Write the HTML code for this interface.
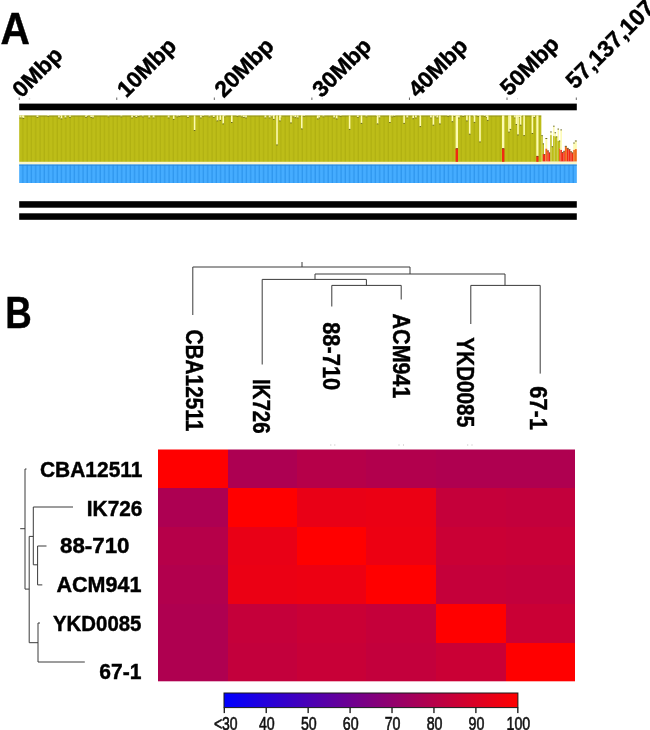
<!DOCTYPE html>
<html><head><meta charset="utf-8"><title>Figure</title>
<style>html,body{margin:0;padding:0;background:#fff}svg{display:block;will-change:transform}text{font-family:"Liberation Sans",Arial,sans-serif}</style>
</head><body>
<svg width="650" height="730" viewBox="0 0 650 730">
<rect width="650" height="730" fill="#fff"/>
<text x="0.4" y="43.6" font-size="44" font-weight="bold" text-anchor="start" fill="#000" textLength="29.4" lengthAdjust="spacingAndGlyphs" stroke="#000" stroke-width="0.45">A</text>
<text x="5.2" y="327.6" font-size="45" font-weight="bold" text-anchor="start" fill="#000" textLength="26.5" lengthAdjust="spacingAndGlyphs" stroke="#000" stroke-width="0.45">B</text>
<rect x="19.20" y="103.60" width="557.60" height="6.70" fill="#000"/>
<rect x="19.20" y="201.20" width="557.60" height="6.50" fill="#000"/>
<rect x="19.20" y="213.30" width="557.60" height="6.50" fill="#000"/>
<rect x="18.70" y="97.50" width="1.00" height="2.50" fill="#666"/>
<rect x="116.26" y="97.50" width="1.00" height="2.50" fill="#666"/>
<rect x="213.82" y="97.50" width="1.00" height="2.50" fill="#666"/>
<rect x="311.38" y="97.50" width="1.00" height="2.50" fill="#666"/>
<rect x="408.94" y="97.50" width="1.00" height="2.50" fill="#666"/>
<rect x="506.50" y="97.50" width="1.00" height="2.50" fill="#666"/>
<rect x="575.80" y="97.50" width="1.00" height="2.50" fill="#666"/>
<text transform="translate(21.4 98.7) rotate(-45)" font-size="22.5" font-weight="bold" text-anchor="start" fill="#000" textLength="60" lengthAdjust="spacingAndGlyphs" stroke="#000" stroke-width="0.45">0Mbp</text>
<text transform="translate(126.3 98.5) rotate(-45)" font-size="22.5" font-weight="bold" text-anchor="start" fill="#000" textLength="72.5" lengthAdjust="spacingAndGlyphs" stroke="#000" stroke-width="0.45">10Mbp</text>
<text transform="translate(223.8 98.5) rotate(-45)" font-size="22.5" font-weight="bold" text-anchor="start" fill="#000" textLength="72.5" lengthAdjust="spacingAndGlyphs" stroke="#000" stroke-width="0.45">20Mbp</text>
<text transform="translate(321.4 98.5) rotate(-45)" font-size="22.5" font-weight="bold" text-anchor="start" fill="#000" textLength="72.5" lengthAdjust="spacingAndGlyphs" stroke="#000" stroke-width="0.45">30Mbp</text>
<text transform="translate(417.6 98.5) rotate(-45)" font-size="22.5" font-weight="bold" text-anchor="start" fill="#000" textLength="72.5" lengthAdjust="spacingAndGlyphs" stroke="#000" stroke-width="0.45">40Mbp</text>
<text transform="translate(509.2 96.8) rotate(-45)" font-size="22.5" font-weight="bold" text-anchor="start" fill="#000" textLength="72.5" lengthAdjust="spacingAndGlyphs" stroke="#000" stroke-width="0.45">50Mbp</text>
<text transform="translate(575.3 90) rotate(-45)" font-size="23.2" font-weight="bold" text-anchor="start" fill="#000" textLength="114" lengthAdjust="spacingAndGlyphs" stroke="#000" stroke-width="0.45">57,137,107</text>
<defs>
<pattern id="st" width="4.3" height="10" patternUnits="userSpaceOnUse" x="19.2"><rect x="0" y="0" width="4.3" height="10" fill="#bdbd18"/><rect x="3.0" y="0" width="1.3" height="10" fill="#b1b112"/></pattern>
<pattern id="sb" width="4.3" height="10" patternUnits="userSpaceOnUse" x="19.2"><rect x="0" y="0" width="4.3" height="10" fill="#45acff"/><rect x="3.0" y="0" width="1.3" height="10" fill="#2f97ee"/></pattern>
<linearGradient id="cb" x1="0" x2="1" y1="0" y2="0"><stop offset="0" stop-color="#0000ff"/><stop offset="1" stop-color="#ff0000"/></linearGradient>
</defs>
<rect x="19.20" y="161.80" width="557.60" height="2.80" fill="#fbf6c8"/>
<rect x="19.20" y="115.60" width="557.60" height="46.20" fill="url(#st)"/>
<rect x="19.20" y="115.60" width="557.60" height="0.90" fill="#8f8f20"/>
<rect x="19.20" y="164.60" width="557.60" height="18.40" fill="url(#sb)"/>
<rect x="19.20" y="164.60" width="557.60" height="1.00" fill="#2b86d8"/>
<rect x="19.38" y="115.30" width="1.80" height="2.40" fill="#f4f2b0"/>
<rect x="19.38" y="117.60" width="1.80" height="0.80" fill="#7a7a22"/>
<rect x="21.52" y="115.30" width="1.80" height="2.40" fill="#f4f2b0"/>
<rect x="21.52" y="117.60" width="1.80" height="0.80" fill="#7a7a22"/>
<rect x="36.57" y="115.30" width="1.80" height="1.80" fill="#f4f2b0"/>
<rect x="36.57" y="117.00" width="1.80" height="0.80" fill="#7a7a22"/>
<rect x="47.32" y="115.30" width="1.80" height="1.00" fill="#f4f2b0"/>
<rect x="47.32" y="116.20" width="1.80" height="0.80" fill="#7a7a22"/>
<rect x="58.07" y="115.30" width="1.80" height="2.40" fill="#f4f2b0"/>
<rect x="58.07" y="117.60" width="1.80" height="0.80" fill="#7a7a22"/>
<rect x="60.23" y="115.30" width="1.80" height="0.80" fill="#f4f2b0"/>
<rect x="60.23" y="116.00" width="1.80" height="0.80" fill="#7a7a22"/>
<rect x="64.52" y="115.30" width="1.80" height="2.40" fill="#f4f2b0"/>
<rect x="64.52" y="117.60" width="1.80" height="0.80" fill="#7a7a22"/>
<rect x="86.02" y="115.30" width="1.80" height="1.00" fill="#f4f2b0"/>
<rect x="86.02" y="116.20" width="1.80" height="0.80" fill="#7a7a22"/>
<rect x="90.32" y="115.30" width="1.80" height="1.80" fill="#f4f2b0"/>
<rect x="90.32" y="117.00" width="1.80" height="0.80" fill="#7a7a22"/>
<rect x="107.52" y="115.30" width="1.80" height="1.30" fill="#f4f2b0"/>
<rect x="107.52" y="116.50" width="1.80" height="0.80" fill="#7a7a22"/>
<rect x="120.42" y="115.30" width="1.80" height="1.30" fill="#f4f2b0"/>
<rect x="120.42" y="116.50" width="1.80" height="0.80" fill="#7a7a22"/>
<rect x="131.17" y="115.30" width="1.80" height="2.40" fill="#f4f2b0"/>
<rect x="131.17" y="117.60" width="1.80" height="0.80" fill="#7a7a22"/>
<rect x="133.32" y="115.30" width="1.80" height="0.80" fill="#f4f2b0"/>
<rect x="133.32" y="116.00" width="1.80" height="0.80" fill="#7a7a22"/>
<rect x="135.47" y="115.30" width="1.80" height="1.80" fill="#f4f2b0"/>
<rect x="135.47" y="117.00" width="1.80" height="0.80" fill="#7a7a22"/>
<rect x="137.62" y="115.30" width="1.80" height="0.80" fill="#f4f2b0"/>
<rect x="137.62" y="116.00" width="1.80" height="0.80" fill="#7a7a22"/>
<rect x="141.92" y="115.30" width="1.80" height="1.30" fill="#f4f2b0"/>
<rect x="141.92" y="116.50" width="1.80" height="0.80" fill="#7a7a22"/>
<rect x="148.37" y="115.30" width="1.80" height="2.40" fill="#f4f2b0"/>
<rect x="148.37" y="117.60" width="1.80" height="0.80" fill="#7a7a22"/>
<rect x="152.67" y="115.30" width="1.80" height="2.40" fill="#f4f2b0"/>
<rect x="152.67" y="117.60" width="1.80" height="0.80" fill="#7a7a22"/>
<rect x="167.72" y="115.30" width="1.80" height="2.40" fill="#f4f2b0"/>
<rect x="167.72" y="117.60" width="1.80" height="0.80" fill="#7a7a22"/>
<rect x="176.32" y="115.30" width="1.80" height="1.30" fill="#f4f2b0"/>
<rect x="176.32" y="116.50" width="1.80" height="0.80" fill="#7a7a22"/>
<rect x="178.47" y="115.30" width="1.80" height="0.80" fill="#f4f2b0"/>
<rect x="178.47" y="116.00" width="1.80" height="0.80" fill="#7a7a22"/>
<rect x="187.07" y="115.30" width="1.80" height="1.80" fill="#f4f2b0"/>
<rect x="187.07" y="117.00" width="1.80" height="0.80" fill="#7a7a22"/>
<rect x="199.97" y="115.30" width="1.80" height="2.40" fill="#f4f2b0"/>
<rect x="199.97" y="117.60" width="1.80" height="0.80" fill="#7a7a22"/>
<rect x="202.12" y="115.30" width="1.80" height="1.00" fill="#f4f2b0"/>
<rect x="202.12" y="116.20" width="1.80" height="0.80" fill="#7a7a22"/>
<rect x="208.57" y="115.30" width="1.80" height="1.30" fill="#f4f2b0"/>
<rect x="208.57" y="116.50" width="1.80" height="0.80" fill="#7a7a22"/>
<rect x="212.87" y="115.30" width="1.80" height="1.80" fill="#f4f2b0"/>
<rect x="212.87" y="117.00" width="1.80" height="0.80" fill="#7a7a22"/>
<rect x="223.62" y="115.30" width="1.80" height="1.30" fill="#f4f2b0"/>
<rect x="223.62" y="116.50" width="1.80" height="0.80" fill="#7a7a22"/>
<rect x="236.52" y="115.30" width="1.80" height="0.80" fill="#f4f2b0"/>
<rect x="236.52" y="116.00" width="1.80" height="0.80" fill="#7a7a22"/>
<rect x="240.82" y="115.30" width="1.80" height="1.30" fill="#f4f2b0"/>
<rect x="240.82" y="116.50" width="1.80" height="0.80" fill="#7a7a22"/>
<rect x="242.97" y="115.30" width="1.80" height="1.80" fill="#f4f2b0"/>
<rect x="242.97" y="117.00" width="1.80" height="0.80" fill="#7a7a22"/>
<rect x="245.12" y="115.30" width="1.80" height="2.40" fill="#f4f2b0"/>
<rect x="245.12" y="117.60" width="1.80" height="0.80" fill="#7a7a22"/>
<rect x="264.48" y="115.30" width="1.80" height="2.40" fill="#f4f2b0"/>
<rect x="264.48" y="117.60" width="1.80" height="0.80" fill="#7a7a22"/>
<rect x="268.78" y="115.30" width="1.80" height="2.40" fill="#f4f2b0"/>
<rect x="268.78" y="117.60" width="1.80" height="0.80" fill="#7a7a22"/>
<rect x="270.93" y="115.30" width="1.80" height="1.30" fill="#f4f2b0"/>
<rect x="270.93" y="116.50" width="1.80" height="0.80" fill="#7a7a22"/>
<rect x="273.07" y="115.30" width="1.80" height="1.00" fill="#f4f2b0"/>
<rect x="273.07" y="116.20" width="1.80" height="0.80" fill="#7a7a22"/>
<rect x="279.52" y="115.30" width="1.80" height="2.40" fill="#f4f2b0"/>
<rect x="279.52" y="117.60" width="1.80" height="0.80" fill="#7a7a22"/>
<rect x="292.43" y="115.30" width="1.80" height="1.30" fill="#f4f2b0"/>
<rect x="292.43" y="116.50" width="1.80" height="0.80" fill="#7a7a22"/>
<rect x="296.73" y="115.30" width="1.80" height="2.40" fill="#f4f2b0"/>
<rect x="296.73" y="117.60" width="1.80" height="0.80" fill="#7a7a22"/>
<rect x="301.02" y="115.30" width="1.80" height="0.80" fill="#f4f2b0"/>
<rect x="301.02" y="116.00" width="1.80" height="0.80" fill="#7a7a22"/>
<rect x="303.18" y="115.30" width="1.80" height="1.00" fill="#f4f2b0"/>
<rect x="303.18" y="116.20" width="1.80" height="0.80" fill="#7a7a22"/>
<rect x="318.23" y="115.30" width="1.80" height="2.40" fill="#f4f2b0"/>
<rect x="318.23" y="117.60" width="1.80" height="0.80" fill="#7a7a22"/>
<rect x="322.52" y="115.30" width="1.80" height="1.30" fill="#f4f2b0"/>
<rect x="322.52" y="116.50" width="1.80" height="0.80" fill="#7a7a22"/>
<rect x="333.27" y="115.30" width="1.80" height="2.40" fill="#f4f2b0"/>
<rect x="333.27" y="117.60" width="1.80" height="0.80" fill="#7a7a22"/>
<rect x="339.73" y="115.30" width="1.80" height="0.80" fill="#f4f2b0"/>
<rect x="339.73" y="116.00" width="1.80" height="0.80" fill="#7a7a22"/>
<rect x="356.93" y="115.30" width="1.80" height="1.80" fill="#f4f2b0"/>
<rect x="356.93" y="117.00" width="1.80" height="0.80" fill="#7a7a22"/>
<rect x="365.52" y="115.30" width="1.80" height="1.30" fill="#f4f2b0"/>
<rect x="365.52" y="116.50" width="1.80" height="0.80" fill="#7a7a22"/>
<rect x="376.27" y="115.30" width="1.80" height="1.00" fill="#f4f2b0"/>
<rect x="376.27" y="116.20" width="1.80" height="0.80" fill="#7a7a22"/>
<rect x="378.43" y="115.30" width="1.80" height="2.40" fill="#f4f2b0"/>
<rect x="378.43" y="117.60" width="1.80" height="0.80" fill="#7a7a22"/>
<rect x="389.18" y="115.30" width="1.80" height="0.80" fill="#f4f2b0"/>
<rect x="389.18" y="116.00" width="1.80" height="0.80" fill="#7a7a22"/>
<rect x="391.32" y="115.30" width="1.80" height="1.30" fill="#f4f2b0"/>
<rect x="391.32" y="116.50" width="1.80" height="0.80" fill="#7a7a22"/>
<rect x="393.48" y="115.30" width="1.80" height="0.80" fill="#f4f2b0"/>
<rect x="393.48" y="116.00" width="1.80" height="0.80" fill="#7a7a22"/>
<rect x="406.38" y="115.30" width="1.80" height="2.40" fill="#f4f2b0"/>
<rect x="406.38" y="117.60" width="1.80" height="0.80" fill="#7a7a22"/>
<rect x="414.98" y="115.30" width="1.80" height="2.40" fill="#f4f2b0"/>
<rect x="414.98" y="117.60" width="1.80" height="0.80" fill="#7a7a22"/>
<rect x="419.27" y="115.30" width="1.80" height="1.00" fill="#f4f2b0"/>
<rect x="419.27" y="116.20" width="1.80" height="0.80" fill="#7a7a22"/>
<rect x="430.02" y="115.30" width="1.80" height="2.40" fill="#f4f2b0"/>
<rect x="430.02" y="117.60" width="1.80" height="0.80" fill="#7a7a22"/>
<rect x="434.32" y="115.30" width="1.80" height="1.30" fill="#f4f2b0"/>
<rect x="434.32" y="116.50" width="1.80" height="0.80" fill="#7a7a22"/>
<rect x="436.47" y="115.30" width="1.80" height="2.40" fill="#f4f2b0"/>
<rect x="436.47" y="117.60" width="1.80" height="0.80" fill="#7a7a22"/>
<rect x="447.22" y="115.30" width="1.80" height="0.80" fill="#f4f2b0"/>
<rect x="447.22" y="116.00" width="1.80" height="0.80" fill="#7a7a22"/>
<rect x="451.52" y="115.30" width="1.80" height="0.80" fill="#f4f2b0"/>
<rect x="451.52" y="116.00" width="1.80" height="0.80" fill="#7a7a22"/>
<rect x="453.68" y="115.30" width="1.80" height="0.80" fill="#f4f2b0"/>
<rect x="453.68" y="116.00" width="1.80" height="0.80" fill="#7a7a22"/>
<rect x="457.97" y="115.30" width="1.80" height="2.40" fill="#f4f2b0"/>
<rect x="457.97" y="117.60" width="1.80" height="0.80" fill="#7a7a22"/>
<rect x="462.27" y="115.30" width="1.80" height="0.80" fill="#f4f2b0"/>
<rect x="462.27" y="116.00" width="1.80" height="0.80" fill="#7a7a22"/>
<rect x="473.02" y="115.30" width="1.80" height="1.30" fill="#f4f2b0"/>
<rect x="473.02" y="116.50" width="1.80" height="0.80" fill="#7a7a22"/>
<rect x="477.32" y="115.30" width="1.80" height="0.80" fill="#f4f2b0"/>
<rect x="477.32" y="116.00" width="1.80" height="0.80" fill="#7a7a22"/>
<rect x="483.77" y="115.30" width="1.80" height="1.00" fill="#f4f2b0"/>
<rect x="483.77" y="116.20" width="1.80" height="0.80" fill="#7a7a22"/>
<rect x="485.93" y="115.30" width="1.80" height="1.80" fill="#f4f2b0"/>
<rect x="485.93" y="117.00" width="1.80" height="0.80" fill="#7a7a22"/>
<rect x="513.88" y="115.30" width="1.80" height="2.40" fill="#f4f2b0"/>
<rect x="513.88" y="117.60" width="1.80" height="0.80" fill="#7a7a22"/>
<rect x="516.02" y="115.30" width="1.80" height="2.40" fill="#f4f2b0"/>
<rect x="516.02" y="117.60" width="1.80" height="0.80" fill="#7a7a22"/>
<rect x="518.18" y="115.30" width="1.80" height="1.80" fill="#f4f2b0"/>
<rect x="518.18" y="117.00" width="1.80" height="0.80" fill="#7a7a22"/>
<rect x="520.33" y="115.30" width="1.80" height="1.00" fill="#f4f2b0"/>
<rect x="520.33" y="116.20" width="1.80" height="0.80" fill="#7a7a22"/>
<rect x="533.23" y="115.30" width="1.80" height="1.80" fill="#f4f2b0"/>
<rect x="533.23" y="117.00" width="1.80" height="0.80" fill="#7a7a22"/>
<rect x="22.70" y="115.30" width="1.60" height="3.20" fill="#fdfbb0"/>
<rect x="22.70" y="117.90" width="1.60" height="1.00" fill="#6d6d18"/>
<rect x="60.70" y="115.30" width="1.60" height="3.70" fill="#fdfbb0"/>
<rect x="60.70" y="118.40" width="1.60" height="1.00" fill="#6d6d18"/>
<rect x="69.20" y="115.30" width="1.60" height="2.20" fill="#fdfbb0"/>
<rect x="69.20" y="116.90" width="1.60" height="1.00" fill="#6d6d18"/>
<rect x="85.20" y="115.30" width="1.60" height="2.20" fill="#fdfbb0"/>
<rect x="85.20" y="116.90" width="1.60" height="1.00" fill="#6d6d18"/>
<rect x="92.20" y="115.30" width="1.60" height="2.70" fill="#fdfbb0"/>
<rect x="92.20" y="117.40" width="1.60" height="1.00" fill="#6d6d18"/>
<rect x="172.90" y="115.30" width="1.60" height="4.20" fill="#fdfbb0"/>
<rect x="172.90" y="118.90" width="1.60" height="1.00" fill="#6d6d18"/>
<rect x="193.80" y="115.30" width="1.60" height="15.30" fill="#fdfbb0"/>
<rect x="193.80" y="130.00" width="1.60" height="1.00" fill="#6d6d18"/>
<rect x="216.60" y="115.30" width="1.60" height="5.70" fill="#fdfbb0"/>
<rect x="216.60" y="120.40" width="1.60" height="1.00" fill="#6d6d18"/>
<rect x="219.50" y="115.30" width="1.60" height="5.20" fill="#fdfbb0"/>
<rect x="219.50" y="119.90" width="1.60" height="1.00" fill="#6d6d18"/>
<rect x="222.40" y="115.30" width="1.60" height="8.70" fill="#fdfbb0"/>
<rect x="222.40" y="123.40" width="1.60" height="1.00" fill="#6d6d18"/>
<rect x="231.00" y="115.30" width="1.60" height="7.30" fill="#fdfbb0"/>
<rect x="231.00" y="122.00" width="1.60" height="1.00" fill="#6d6d18"/>
<rect x="273.00" y="115.30" width="1.60" height="4.20" fill="#fdfbb0"/>
<rect x="273.00" y="118.90" width="1.60" height="1.00" fill="#6d6d18"/>
<rect x="276.20" y="115.30" width="1.60" height="29.70" fill="#fdfbb0"/>
<rect x="276.20" y="144.40" width="1.60" height="1.00" fill="#6d6d18"/>
<rect x="279.10" y="115.30" width="1.60" height="5.70" fill="#fdfbb0"/>
<rect x="279.10" y="120.40" width="1.60" height="1.00" fill="#6d6d18"/>
<rect x="290.20" y="115.30" width="1.60" height="7.70" fill="#fdfbb0"/>
<rect x="290.20" y="122.40" width="1.60" height="1.00" fill="#6d6d18"/>
<rect x="294.50" y="115.30" width="1.60" height="2.50" fill="#fdfbb0"/>
<rect x="294.50" y="117.20" width="1.60" height="1.00" fill="#6d6d18"/>
<rect x="301.00" y="115.30" width="1.60" height="13.70" fill="#fdfbb0"/>
<rect x="301.00" y="128.40" width="1.60" height="1.00" fill="#6d6d18"/>
<rect x="316.90" y="115.30" width="1.60" height="3.70" fill="#fdfbb0"/>
<rect x="316.90" y="118.40" width="1.60" height="1.00" fill="#6d6d18"/>
<rect x="335.90" y="115.30" width="1.60" height="3.70" fill="#fdfbb0"/>
<rect x="335.90" y="118.40" width="1.60" height="1.00" fill="#6d6d18"/>
<rect x="348.80" y="115.30" width="1.60" height="14.20" fill="#fdfbb0"/>
<rect x="348.80" y="128.90" width="1.60" height="1.00" fill="#6d6d18"/>
<rect x="360.70" y="115.30" width="1.60" height="8.20" fill="#fdfbb0"/>
<rect x="360.70" y="122.90" width="1.60" height="1.00" fill="#6d6d18"/>
<rect x="376.80" y="115.30" width="1.60" height="8.70" fill="#fdfbb0"/>
<rect x="376.80" y="123.40" width="1.60" height="1.00" fill="#6d6d18"/>
<rect x="389.10" y="115.30" width="1.60" height="7.30" fill="#fdfbb0"/>
<rect x="389.10" y="122.00" width="1.60" height="1.00" fill="#6d6d18"/>
<rect x="403.30" y="115.30" width="1.60" height="8.20" fill="#fdfbb0"/>
<rect x="403.30" y="122.90" width="1.60" height="1.00" fill="#6d6d18"/>
<rect x="412.40" y="115.30" width="1.60" height="3.50" fill="#fdfbb0"/>
<rect x="412.40" y="118.20" width="1.60" height="1.00" fill="#6d6d18"/>
<rect x="419.50" y="115.30" width="1.60" height="11.40" fill="#fdfbb0"/>
<rect x="419.50" y="126.10" width="1.60" height="1.00" fill="#6d6d18"/>
<rect x="432.60" y="115.30" width="1.60" height="10.00" fill="#fdfbb0"/>
<rect x="432.60" y="124.70" width="1.60" height="1.00" fill="#6d6d18"/>
<rect x="439.10" y="115.30" width="1.60" height="8.70" fill="#fdfbb0"/>
<rect x="439.10" y="123.40" width="1.60" height="1.00" fill="#6d6d18"/>
<rect x="451.60" y="115.30" width="1.60" height="6.50" fill="#fdfbb0"/>
<rect x="451.60" y="121.20" width="1.60" height="1.00" fill="#6d6d18"/>
<rect x="466.10" y="115.30" width="1.60" height="5.70" fill="#fdfbb0"/>
<rect x="466.10" y="120.40" width="1.60" height="1.00" fill="#6d6d18"/>
<rect x="468.90" y="115.30" width="1.60" height="19.00" fill="#fdfbb0"/>
<rect x="468.90" y="133.70" width="1.60" height="1.00" fill="#6d6d18"/>
<rect x="473.70" y="115.30" width="1.60" height="7.20" fill="#fdfbb0"/>
<rect x="473.70" y="121.90" width="1.60" height="1.00" fill="#6d6d18"/>
<rect x="479.20" y="115.30" width="1.60" height="26.70" fill="#fdfbb0"/>
<rect x="479.20" y="141.40" width="1.60" height="1.00" fill="#6d6d18"/>
<rect x="486.90" y="115.30" width="1.60" height="5.20" fill="#fdfbb0"/>
<rect x="486.90" y="119.90" width="1.60" height="1.00" fill="#6d6d18"/>
<rect x="455.60" y="115.30" width="2.40" height="33.50" fill="#fdfbb0"/>
<rect x="455.60" y="148.80" width="2.40" height="13.00" fill="#f02a12"/>
<rect x="455.60" y="148.20" width="2.40" height="1.00" fill="#8a3a10"/>
<rect x="502.00" y="115.30" width="2.40" height="33.50" fill="#fdfbb0"/>
<rect x="502.00" y="148.80" width="2.40" height="13.00" fill="#f02a12"/>
<rect x="502.00" y="148.20" width="2.40" height="1.00" fill="#8a3a10"/>
<rect x="541.34" y="114.80" width="36.96" height="47.00" fill="#fff"/>
<rect x="508.20" y="115.30" width="1.60" height="16.90" fill="#fdfbb0"/>
<rect x="508.20" y="131.60" width="1.60" height="1.00" fill="#6d6d18"/>
<rect x="509.60" y="115.30" width="1.60" height="14.20" fill="#fdfbb0"/>
<rect x="509.60" y="128.90" width="1.60" height="1.00" fill="#6d6d18"/>
<rect x="515.60" y="115.30" width="1.60" height="9.30" fill="#fdfbb0"/>
<rect x="515.60" y="124.00" width="1.60" height="1.00" fill="#6d6d18"/>
<rect x="517.20" y="115.30" width="1.60" height="19.70" fill="#fdfbb0"/>
<rect x="517.20" y="134.40" width="1.60" height="1.00" fill="#6d6d18"/>
<rect x="519.80" y="115.30" width="1.60" height="10.00" fill="#fdfbb0"/>
<rect x="519.80" y="124.70" width="1.60" height="1.00" fill="#6d6d18"/>
<rect x="523.30" y="115.30" width="1.60" height="20.40" fill="#fdfbb0"/>
<rect x="523.30" y="135.10" width="1.60" height="1.00" fill="#6d6d18"/>
<rect x="531.60" y="115.30" width="1.60" height="18.30" fill="#fdfbb0"/>
<rect x="531.60" y="133.00" width="1.60" height="1.00" fill="#6d6d18"/>
<rect x="536.30" y="115.30" width="2.20" height="41.20" fill="#fdfbb0"/>
<rect x="536.30" y="156.50" width="2.20" height="5.30" fill="#f02a12"/>
<rect x="536.30" y="155.90" width="2.20" height="1.00" fill="#8a3a10"/>
<rect x="541.34" y="135.53" width="1.40" height="25.89" fill="#bdbd18"/>
<rect x="541.34" y="135.13" width="1.40" height="1.00" fill="#6a6a30"/>
<rect x="542.74" y="143.75" width="1.23" height="10.27" fill="#bdbd18"/>
<rect x="542.74" y="143.35" width="1.23" height="1.00" fill="#6a6a30"/>
<rect x="542.74" y="154.03" width="1.23" height="7.40" fill="#f02a12"/>
<rect x="543.97" y="154.44" width="1.40" height="6.99" fill="#f02a12"/>
<rect x="543.97" y="154.04" width="1.40" height="1.00" fill="#6a6a30"/>
<rect x="545.37" y="138.41" width="1.89" height="10.27" fill="#fdfbb0"/>
<rect x="545.37" y="138.01" width="1.89" height="1.00" fill="#6a6a30"/>
<rect x="545.37" y="148.68" width="1.89" height="12.74" fill="#ee6a18"/>
<rect x="547.26" y="150.74" width="1.48" height="10.68" fill="#f02a12"/>
<rect x="547.26" y="150.34" width="1.48" height="1.00" fill="#6a6a30"/>
<rect x="548.74" y="152.79" width="1.48" height="8.63" fill="#f02a12"/>
<rect x="548.74" y="152.39" width="1.48" height="1.00" fill="#6a6a30"/>
<rect x="550.22" y="131.83" width="1.48" height="3.29" fill="#fdfbb0"/>
<rect x="550.22" y="131.43" width="1.48" height="1.00" fill="#6a6a30"/>
<rect x="550.22" y="135.12" width="1.48" height="26.30" fill="#bdbd18"/>
<rect x="551.70" y="146.63" width="1.40" height="14.79" fill="#bdbd18"/>
<rect x="551.70" y="146.23" width="1.40" height="1.00" fill="#6a6a30"/>
<rect x="553.10" y="126.08" width="1.48" height="9.86" fill="#fdfbb0"/>
<rect x="553.10" y="125.68" width="1.48" height="1.00" fill="#6a6a30"/>
<rect x="553.10" y="135.94" width="1.48" height="25.48" fill="#bdbd18"/>
<rect x="554.57" y="132.66" width="1.48" height="3.70" fill="#fdfbb0"/>
<rect x="554.57" y="132.26" width="1.48" height="1.00" fill="#6a6a30"/>
<rect x="554.57" y="136.36" width="1.48" height="25.07" fill="#bdbd18"/>
<rect x="556.05" y="136.77" width="1.48" height="24.66" fill="#bdbd18"/>
<rect x="556.05" y="136.37" width="1.48" height="1.00" fill="#6a6a30"/>
<rect x="557.53" y="128.96" width="1.48" height="11.92" fill="#fdfbb0"/>
<rect x="557.53" y="128.56" width="1.48" height="1.00" fill="#6a6a30"/>
<rect x="557.53" y="140.88" width="1.48" height="20.55" fill="#bdbd18"/>
<rect x="559.01" y="140.88" width="1.40" height="7.40" fill="#bdbd18"/>
<rect x="559.01" y="140.48" width="1.40" height="1.00" fill="#6a6a30"/>
<rect x="559.01" y="148.27" width="1.40" height="13.15" fill="#ee6a18"/>
<rect x="560.41" y="129.78" width="1.48" height="20.14" fill="#fdfbb0"/>
<rect x="560.41" y="129.38" width="1.48" height="1.00" fill="#6a6a30"/>
<rect x="560.41" y="149.92" width="1.48" height="11.51" fill="#f02a12"/>
<rect x="561.89" y="152.38" width="1.48" height="9.04" fill="#f02a12"/>
<rect x="561.89" y="151.98" width="1.48" height="1.00" fill="#6a6a30"/>
<rect x="563.37" y="151.15" width="1.48" height="10.27" fill="#f02a12"/>
<rect x="563.37" y="150.75" width="1.48" height="1.00" fill="#6a6a30"/>
<rect x="564.85" y="146.22" width="1.97" height="15.21" fill="#ee6a18"/>
<rect x="564.85" y="145.82" width="1.97" height="1.00" fill="#6a6a30"/>
<rect x="566.82" y="148.27" width="1.81" height="13.15" fill="#f02a12"/>
<rect x="566.82" y="147.87" width="1.81" height="1.00" fill="#6a6a30"/>
<rect x="568.63" y="149.51" width="1.64" height="11.92" fill="#f02a12"/>
<rect x="568.63" y="149.11" width="1.64" height="1.00" fill="#6a6a30"/>
<rect x="570.27" y="151.56" width="1.48" height="9.86" fill="#f02a12"/>
<rect x="570.27" y="151.16" width="1.48" height="1.00" fill="#6a6a30"/>
<rect x="571.75" y="152.79" width="1.48" height="8.63" fill="#f02a12"/>
<rect x="571.75" y="152.39" width="1.48" height="1.00" fill="#6a6a30"/>
<rect x="573.23" y="142.93" width="1.64" height="6.99" fill="#fdfbb0"/>
<rect x="573.23" y="142.53" width="1.64" height="1.00" fill="#6a6a30"/>
<rect x="573.23" y="149.92" width="1.64" height="11.51" fill="#ee6a18"/>
<rect x="574.88" y="140.88" width="1.92" height="8.22" fill="#fdfbb0"/>
<rect x="574.88" y="140.48" width="1.92" height="1.00" fill="#6a6a30"/>
<rect x="574.88" y="149.09" width="1.92" height="12.33" fill="#ee6a18"/>
<rect x="158.00" y="449.50" width="70.00" height="38.50" fill="#ff0000"/>
<rect x="228.00" y="449.50" width="69.00" height="38.50" fill="#ad0052"/>
<rect x="297.00" y="449.50" width="69.00" height="38.50" fill="#b60049"/>
<rect x="366.00" y="449.50" width="70.00" height="38.50" fill="#b2004d"/>
<rect x="436.00" y="449.50" width="70.00" height="38.50" fill="#af0050"/>
<rect x="506.00" y="449.50" width="69.00" height="38.50" fill="#af0050"/>
<rect x="158.00" y="488.00" width="70.00" height="39.00" fill="#ad0052"/>
<rect x="228.00" y="488.00" width="69.00" height="39.00" fill="#ff0000"/>
<rect x="297.00" y="488.00" width="69.00" height="39.00" fill="#e90016"/>
<rect x="366.00" y="488.00" width="70.00" height="39.00" fill="#eb0014"/>
<rect x="436.00" y="488.00" width="70.00" height="39.00" fill="#c5003a"/>
<rect x="506.00" y="488.00" width="69.00" height="39.00" fill="#c3003c"/>
<rect x="158.00" y="527.00" width="70.00" height="38.00" fill="#b60049"/>
<rect x="228.00" y="527.00" width="69.00" height="38.00" fill="#e90016"/>
<rect x="297.00" y="527.00" width="69.00" height="38.00" fill="#ff0000"/>
<rect x="366.00" y="527.00" width="70.00" height="38.00" fill="#ed0012"/>
<rect x="436.00" y="527.00" width="70.00" height="38.00" fill="#ca0035"/>
<rect x="506.00" y="527.00" width="69.00" height="38.00" fill="#c80037"/>
<rect x="158.00" y="565.00" width="70.00" height="39.00" fill="#b2004d"/>
<rect x="228.00" y="565.00" width="69.00" height="39.00" fill="#eb0014"/>
<rect x="297.00" y="565.00" width="69.00" height="39.00" fill="#ed0012"/>
<rect x="366.00" y="565.00" width="70.00" height="39.00" fill="#ff0000"/>
<rect x="436.00" y="565.00" width="70.00" height="39.00" fill="#c5003a"/>
<rect x="506.00" y="565.00" width="69.00" height="39.00" fill="#c3003c"/>
<rect x="158.00" y="604.00" width="70.00" height="39.00" fill="#af0050"/>
<rect x="228.00" y="604.00" width="69.00" height="39.00" fill="#c5003a"/>
<rect x="297.00" y="604.00" width="69.00" height="39.00" fill="#ca0035"/>
<rect x="366.00" y="604.00" width="70.00" height="39.00" fill="#c5003a"/>
<rect x="436.00" y="604.00" width="70.00" height="39.00" fill="#ff0000"/>
<rect x="506.00" y="604.00" width="69.00" height="39.00" fill="#ca0035"/>
<rect x="158.00" y="643.00" width="70.00" height="38.30" fill="#af0050"/>
<rect x="228.00" y="643.00" width="69.00" height="38.30" fill="#c3003c"/>
<rect x="297.00" y="643.00" width="69.00" height="38.30" fill="#c80037"/>
<rect x="366.00" y="643.00" width="70.00" height="38.30" fill="#c3003c"/>
<rect x="436.00" y="643.00" width="70.00" height="38.30" fill="#ca0035"/>
<rect x="506.00" y="643.00" width="69.00" height="38.30" fill="#ff0000"/>
<polyline points="302.0,262.0 302.0,267.0" fill="none" stroke="#3a3a3a" stroke-width="1"/>
<polyline points="192.8,315.0 192.8,267.0 410.0,267.0 410.0,274.0" fill="none" stroke="#3a3a3a" stroke-width="1"/>
<polyline points="315.0,279.4 315.0,274.0 505.0,274.0 505.0,285.4" fill="none" stroke="#3a3a3a" stroke-width="1"/>
<polyline points="262.2,364.5 262.2,279.4 366.4,279.4 366.4,285.4" fill="none" stroke="#3a3a3a" stroke-width="1"/>
<polyline points="331.8,306.5 331.8,285.4 401.2,285.4 401.2,299.5" fill="none" stroke="#3a3a3a" stroke-width="1"/>
<polyline points="470.8,324.0 470.8,285.4 540.2,285.4 540.2,373.6" fill="none" stroke="#3a3a3a" stroke-width="1"/>
<rect x="330.30" y="444.50" width="1.00" height="1.00" fill="#bbb"/>
<rect x="334.30" y="444.50" width="1.00" height="1.00" fill="#bbb"/>
<rect x="398.50" y="444.50" width="1.00" height="1.00" fill="#bbb"/>
<rect x="403.00" y="444.50" width="1.00" height="1.00" fill="#bbb"/>
<rect x="467.20" y="444.50" width="1.00" height="1.00" fill="#bbb"/>
<rect x="471.50" y="444.50" width="1.00" height="1.00" fill="#bbb"/>
<rect x="29.20" y="98.30" width="1.00" height="1.00" fill="#ccc"/>
<rect x="126.76" y="98.30" width="1.00" height="1.00" fill="#ccc"/>
<rect x="224.32" y="98.30" width="1.00" height="1.00" fill="#ccc"/>
<rect x="321.88" y="98.30" width="1.00" height="1.00" fill="#ccc"/>
<rect x="419.44" y="98.30" width="1.00" height="1.00" fill="#ccc"/>
<rect x="517.00" y="98.30" width="1.00" height="1.00" fill="#ccc"/>
<text transform="translate(185.9 329.4) rotate(90)" font-size="23" font-weight="bold" text-anchor="start" fill="#000" textLength="102" lengthAdjust="spacingAndGlyphs" stroke="#000" stroke-width="0.45">CBA12511</text>
<text transform="translate(252.5 378.9) rotate(90)" font-size="23" font-weight="bold" text-anchor="start" fill="#000" textLength="54.8" lengthAdjust="spacingAndGlyphs" stroke="#000" stroke-width="0.45">IK726</text>
<text transform="translate(323 322.2) rotate(90)" font-size="23" font-weight="bold" text-anchor="start" fill="#000" textLength="68" lengthAdjust="spacingAndGlyphs" stroke="#000" stroke-width="0.45">88-710</text>
<text transform="translate(392.5 313.6) rotate(90)" font-size="23" font-weight="bold" text-anchor="start" fill="#000" textLength="84.8" lengthAdjust="spacingAndGlyphs" stroke="#000" stroke-width="0.45">ACM941</text>
<text transform="translate(457.2 337.2) rotate(90)" font-size="23" font-weight="bold" text-anchor="start" fill="#000" textLength="90" lengthAdjust="spacingAndGlyphs" stroke="#000" stroke-width="0.45">YKD0085</text>
<text transform="translate(529.5 386.2) rotate(90)" font-size="23" font-weight="bold" text-anchor="start" fill="#000" textLength="43.8" lengthAdjust="spacingAndGlyphs" stroke="#000" stroke-width="0.45">67-1</text>
<text x="142.4" y="477.0" font-size="22.5" font-weight="bold" text-anchor="end" fill="#000" textLength="102.4" lengthAdjust="spacingAndGlyphs" stroke="#000" stroke-width="0.45">CBA12511</text>
<text x="142.4" y="515.6" font-size="22.5" font-weight="bold" text-anchor="end" fill="#000" textLength="55.6" lengthAdjust="spacingAndGlyphs" stroke="#000" stroke-width="0.45">IK726</text>
<text x="129.5" y="553" font-size="22.5" font-weight="bold" text-anchor="end" fill="#000" textLength="69.5" lengthAdjust="spacingAndGlyphs" stroke="#000" stroke-width="0.45">88-710</text>
<text x="141.4" y="591.6" font-size="22.5" font-weight="bold" text-anchor="end" fill="#000" textLength="85" lengthAdjust="spacingAndGlyphs" stroke="#000" stroke-width="0.45">ACM941</text>
<text x="141.4" y="630.7" font-size="22.5" font-weight="bold" text-anchor="end" fill="#000" textLength="88.4" lengthAdjust="spacingAndGlyphs" stroke="#000" stroke-width="0.45">YKD0085</text>
<text x="141.4" y="678.6" font-size="22.5" font-weight="bold" text-anchor="end" fill="#000" textLength="42.1" lengthAdjust="spacingAndGlyphs" stroke="#000" stroke-width="0.45">67-1</text>
<polyline points="20.2,528.7 25.0,528.7" fill="none" stroke="#3a3a3a" stroke-width="1"/>
<polyline points="26.5,469.0 25.0,469.0 25.0,589.1 29.2,589.1" fill="none" stroke="#3a3a3a" stroke-width="1"/>
<polyline points="33.3,536.4 29.2,536.4 29.2,642.7 38.0,642.7" fill="none" stroke="#3a3a3a" stroke-width="1"/>
<polyline points="73.0,507.0 33.3,507.0 33.3,564.8 37.6,564.8" fill="none" stroke="#3a3a3a" stroke-width="1"/>
<polyline points="46.5,546.0 37.6,546.0 37.6,584.9 42.3,584.9" fill="none" stroke="#3a3a3a" stroke-width="1"/>
<polyline points="40.0,623.0 38.0,623.0 38.0,662.0 84.8,662.0" fill="none" stroke="#3a3a3a" stroke-width="1"/>
<rect x="224.00" y="693.00" width="293.90" height="14.60" fill="url(#cb)" stroke="#1a1a1a" stroke-width="1"/>
<rect x="223.60" y="707.50" width="1.40" height="5.60" fill="#222"/>
<rect x="265.53" y="707.50" width="1.40" height="5.60" fill="#222"/>
<rect x="307.46" y="707.50" width="1.40" height="5.60" fill="#222"/>
<rect x="349.39" y="707.50" width="1.40" height="5.60" fill="#222"/>
<rect x="391.32" y="707.50" width="1.40" height="5.60" fill="#222"/>
<rect x="433.25" y="707.50" width="1.40" height="5.60" fill="#222"/>
<rect x="475.18" y="707.50" width="1.40" height="5.60" fill="#222"/>
<rect x="517.11" y="707.50" width="1.40" height="5.60" fill="#222"/>
<text x="225.8" y="730" font-size="17.5" font-weight="normal" text-anchor="middle" fill="#111" textLength="23.7" lengthAdjust="spacingAndGlyphs" stroke="#111" stroke-width="0.6">&lt;30</text>
<text x="266.8" y="730" font-size="17.5" font-weight="normal" text-anchor="middle" fill="#111" textLength="15.8" lengthAdjust="spacingAndGlyphs" stroke="#111" stroke-width="0.6">40</text>
<text x="308.8" y="730" font-size="17.5" font-weight="normal" text-anchor="middle" fill="#111" textLength="15.8" lengthAdjust="spacingAndGlyphs" stroke="#111" stroke-width="0.6">50</text>
<text x="350.7" y="730" font-size="17.5" font-weight="normal" text-anchor="middle" fill="#111" textLength="15.8" lengthAdjust="spacingAndGlyphs" stroke="#111" stroke-width="0.6">60</text>
<text x="392.6" y="730" font-size="17.5" font-weight="normal" text-anchor="middle" fill="#111" textLength="15.8" lengthAdjust="spacingAndGlyphs" stroke="#111" stroke-width="0.6">70</text>
<text x="434.6" y="730" font-size="17.5" font-weight="normal" text-anchor="middle" fill="#111" textLength="15.8" lengthAdjust="spacingAndGlyphs" stroke="#111" stroke-width="0.6">80</text>
<text x="476.5" y="730" font-size="17.5" font-weight="normal" text-anchor="middle" fill="#111" textLength="15.8" lengthAdjust="spacingAndGlyphs" stroke="#111" stroke-width="0.6">90</text>
<text x="518.4" y="730" font-size="17.5" font-weight="normal" text-anchor="middle" fill="#111" textLength="23.7" lengthAdjust="spacingAndGlyphs" stroke="#111" stroke-width="0.6">100</text>
</svg>
</body></html>
